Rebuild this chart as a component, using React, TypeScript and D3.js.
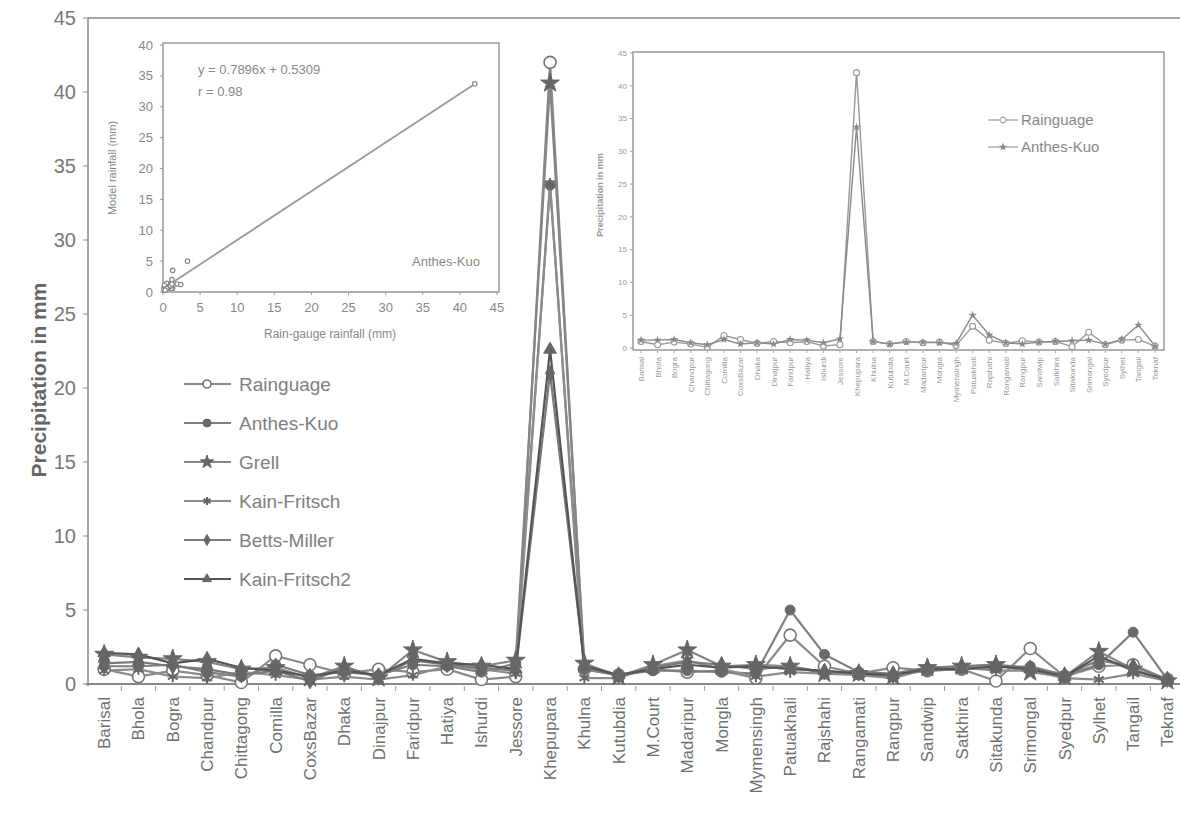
import React from 'react';
import * as d3 from 'd3';

const stations = ['Barisal','Bhola','Bogra','Chandpur','Chittagong','Comilla','CoxsBazar','Dhaka','Dinajpur','Faridpur','Hatiya','Ishurdi','Jessore','Khepupara','Khulna','Kutubdia','M.Court','Madaripur','Mongla','Mymensingh','Patuakhali','Rajshahi','Rangamati','Rangpur','Sandwip','Satkhira','Sitakunda','Srimongal','Syedpur','Sylhet','Tangail','Teknaf'];

const rainguage = [1.0,0.5,0.9,0.6,0.1,1.9,1.3,0.7,1.0,0.8,1.0,0.3,0.5,42.0,1.0,0.6,1.0,0.8,0.9,0.4,3.3,1.2,0.7,1.1,0.9,1.0,0.2,2.4,0.5,1.2,1.3,0.3];
const anthesKuo = [1.2,1.2,1.3,0.8,0.5,1.3,0.6,0.8,0.6,1.3,1.2,0.8,1.4,33.7,1.0,0.6,0.9,0.9,0.8,0.7,5.0,2.0,0.8,0.6,0.9,1.0,1.1,1.2,0.6,1.3,3.5,0.3];
const grell = [2.0,1.8,1.7,1.5,1.0,1.1,0.4,1.2,0.4,2.3,1.5,1.2,1.6,40.6,1.4,0.5,1.3,2.3,1.2,1.3,1.2,0.7,0.7,0.5,1.1,1.2,1.3,0.8,0.5,2.2,1.0,0.2];
const kainFritsch = [0.9,1.0,0.5,0.4,0.8,0.6,0.3,0.5,0.3,0.6,1.2,1.0,0.7,33.8,0.4,0.4,1.2,1.6,1.0,0.5,0.8,0.7,0.6,0.4,1.0,1.1,0.9,0.9,0.4,0.3,0.7,0.2];
const bettsMiller = [1.4,1.5,1.2,1.0,0.6,0.9,0.2,1.1,0.5,1.6,1.3,1.1,0.9,21.0,1.3,0.6,1.1,1.5,1.3,1.0,1.2,0.8,0.8,0.7,1.1,1.2,1.3,1.1,0.6,1.6,1.2,0.3];
const kainFritsch2 = [2.1,2.0,1.4,1.7,1.1,0.9,0.5,0.9,0.6,1.7,1.4,1.3,1.0,22.6,1.2,0.6,1.0,1.3,1.1,1.2,1.0,0.9,0.7,0.6,1.0,1.0,1.2,1.0,0.5,1.9,0.9,0.3];

const seriesNames = ['Rainguage','Anthes-Kuo','Grell',' Kain-Fritsch','Betts-Miller','Kain-Fritsch2'];
const seriesValues = [rainguage, anthesKuo, grell, kainFritsch, bettsMiller, kainFritsch2];

const mainYTicks = [0,5,10,15,20,25,30,35,40,45];
const scatterXTicks = [0,5,10,15,20,25,30,35,40,45];
const scatterYTicks = [0,5,10,15,20,25,30,35,40];
const insetYTicks = [0,5,10,15,20,25,30,35,40,45];
const regSlope = 0.7896;
const regIntercept = 0.5309;
const regressionText = 'y = 0.7896x + 0.5309';
const rText = 'r = 0.98';

const FONT = "'Liberation Sans', Arial, sans-serif";

const styles = [
  { kind: 'circleOpen', line: '#8a8a8a', mark: '#777', size: 6 },
  { kind: 'circle', line: '#7e7e7e', mark: '#6a6a6a', size: 5 },
  { kind: 'star', line: '#858585', mark: '#666', size: 110 },
  { kind: 'asterisk', line: '#8c8c8c', mark: '#666', size: 90 },
  { kind: 'diamond', line: '#7a7a7a', mark: '#666', size: 70 },
  { kind: 'triangle', line: '#555', mark: '#666', size: 70 },
];

function Marker({ kind, cx, cy, color, size }: any) {
  if (kind === 'circleOpen') return <circle cx={cx} cy={cy} r={size} fill="#fff" stroke={color} strokeWidth={1.6} />;
  if (kind === 'circle') return <circle cx={cx} cy={cy} r={size} fill={color} stroke={color} strokeWidth={1} />;
  const t = kind === 'star' ? d3.symbolStar : kind === 'asterisk' ? d3.symbolAsterisk : kind === 'diamond' ? d3.symbolDiamond : d3.symbolTriangle;
  const d = d3.symbol(t, size)() as string;
  if (kind === 'asterisk') return <path d={d} transform={`translate(${cx},${cy})`} fill="none" stroke={color} strokeWidth={2} />;
  return <path d={d} transform={`translate(${cx},${cy})`} fill={color} stroke={color} strokeWidth={1} />;
}

export default function App() {
  const x = d3.scaleBand().domain(stations).range([87, 87 + 32 * 34.3]);
  const cx = (s: string) => (x(s) as number) + x.bandwidth() / 2;
  const y = d3.scaleLinear().domain([0, 45]).range([684, 18]);
  const line = d3.line<number>().x((_, i) => cx(stations[i])).y(v => y(v));

  const sx = d3.scaleLinear().domain([0, 45]).range([163, 497]);
  const sy = d3.scaleLinear().domain([0, 40]).range([292, 45]);
  const gaugeMax = d3.max(rainguage) as number;

  const ix = d3.scalePoint().domain(stations).range([641, 1155]);
  const iy = d3.scaleLinear().domain([0, 45]).range([348, 53]);
  const iline = d3.line<number>().x((_, i) => ix(stations[i]) as number).y(v => iy(v));

  return (
    <div style={{ position: 'absolute', left: 0, top: 0 }}>
      <svg width={1180} height={821} style={{ display: 'block', background: '#fff', fontFamily: FONT }}>
        <line x1={88} x2={1180} y1={18} y2={18} stroke="#888" strokeWidth={1.5} />
        <line x1={88} x2={88} y1={18} y2={686} stroke="#888" strokeWidth={1.5} />
        <line x1={86} x2={1180} y1={684} y2={684} stroke="#888" strokeWidth={2} />
        {mainYTicks.map(t => (
          <g key={t}>
            <line x1={83} x2={88} y1={y(t)} y2={y(t)} stroke="#888" />
            <text x={76} y={y(t)} dy="0.35em" textAnchor="end" fontSize={20} fill="#777">{t}</text>
          </g>
        ))}
        {stations.map((s, i) => (
          <line key={'xt' + i} x1={(x(s) as number) + x.bandwidth()} x2={(x(s) as number) + x.bandwidth()} y1={686} y2={691} stroke="#999" />
        ))}
        {stations.map(s => (
          <text key={s} transform={`translate(${cx(s) + 6},697) rotate(-90)`} textAnchor="end" fontSize={17} fill="#707070">{s}</text>
        ))}
        <text transform="translate(46,380) rotate(-90)" textAnchor="middle" fontSize={21} fontWeight="bold" fill="#666">Precipitation in mm</text>

        {seriesValues.map((vals, k) => (
          <path key={'l' + k} d={line(vals) as string} fill="none" stroke={styles[k].line} strokeWidth={2.2} />
        ))}
        {seriesValues.map((vals, k) => (
          <g key={'m' + k}>
            {vals.map((v, i) => (
              <Marker key={i} kind={styles[k].kind} cx={cx(stations[i])} cy={y(v)} color={styles[k].mark} size={styles[k].size} />
            ))}
          </g>
        ))}

        {seriesNames.map((n, k) => {
          const ly = 384 + k * 39;
          return (
            <g key={n}>
              <line x1={184} x2={231} y1={ly} y2={ly} stroke={styles[k].line} strokeWidth={1.8} />
              <Marker kind={styles[k].kind} cx={207} cy={ly} color={styles[k].mark} size={styles[k].kind.startsWith('circle') ? 4 : styles[k].size * 0.5} />
              <text x={239} y={ly} dy="0.35em" fontSize={19} fill="#808080">{n}</text>
            </g>
          );
        })}

        <rect x={163} y={43} width={336} height={249} fill="#fff" stroke="#999" strokeWidth={1.5} />
        {scatterYTicks.map(t => (
          <g key={'sy' + t}>
            <line x1={160} x2={163} y1={sy(t)} y2={sy(t)} stroke="#999" />
            <text x={153} y={sy(t)} dy="0.35em" textAnchor="end" fontSize={13} fill="#888">{t}</text>
          </g>
        ))}
        {scatterXTicks.map(t => (
          <g key={'sx' + t}>
            <line x1={sx(t)} x2={sx(t)} y1={292} y2={295} stroke="#999" />
            <text x={sx(t)} y={312} textAnchor="middle" fontSize={13} fill="#888">{t}</text>
          </g>
        ))}
        <text x={330} y={338} textAnchor="middle" fontSize={12} fill="#888">Rain-gauge rainfall (mm)</text>
        <text transform="translate(116,168) rotate(-90)" textAnchor="middle" fontSize={11} fill="#888">Model rainfall (mm)</text>
        <line x1={sx(0)} x2={sx(gaugeMax)} y1={sy(regIntercept)} y2={sy(regSlope * gaugeMax + regIntercept)} stroke="#999" strokeWidth={1.8} />
        {rainguage.map((g, i) => (
          <circle key={'sp' + i} cx={sx(g)} cy={sy(anthesKuo[i])} r={2.2} fill="#fff" stroke="#888" strokeWidth={1.2} />
        ))}
        <text x={198} y={74} fontSize={13} fill="#888">{regressionText}</text>
        <text x={198} y={96} fontSize={13} fill="#888">{rText}</text>
        <text x={480} y={266} textAnchor="end" fontSize={13} fill="#888">Anthes-Kuo</text>

        <rect x={633} y={52} width={531} height={298} fill="#fff" stroke="#999" strokeWidth={1.5} />
        {insetYTicks.map(t => (
          <g key={'iy' + t}>
            <line x1={630} x2={633} y1={iy(t)} y2={iy(t)} stroke="#999" />
            <text x={627} y={iy(t)} dy="0.35em" textAnchor="end" fontSize={8} fill="#999">{t}</text>
          </g>
        ))}
        {stations.map(s => (
          <g key={'ix' + s}>
            <line x1={ix(s) as number} x2={ix(s) as number} y1={350} y2={353} stroke="#aaa" />
            <text transform={`translate(${(ix(s) as number) + 3},357) rotate(-90)`} textAnchor="end" fontSize={8} fill="#999">{s}</text>
          </g>
        ))}
        <text transform="translate(603,195) rotate(-90)" textAnchor="middle" fontSize={9} fontWeight="bold" fill="#999">Precipitation in mm</text>
        <path d={iline(rainguage) as string} fill="none" stroke="#999" strokeWidth={1.4} />
        <path d={iline(anthesKuo) as string} fill="none" stroke="#8a8a8a" strokeWidth={1.4} />
        {rainguage.map((v, i) => (
          <circle key={'ir' + i} cx={ix(stations[i]) as number} cy={iy(v)} r={3} fill="#fff" stroke="#999" strokeWidth={1.1} />
        ))}
        {anthesKuo.map((v, i) => (
          <path key={'ia' + i} d={d3.symbol(d3.symbolStar, 22)() as string} transform={`translate(${ix(stations[i])},${iy(v)})`} fill="#888" />
        ))}
        <line x1={988} x2={1018} y1={120} y2={120} stroke="#999" strokeWidth={1.2} />
        <circle cx={1003} cy={120} r={3} fill="#fff" stroke="#999" />
        <text x={1021} y={120} dy="0.35em" fontSize={15} fill="#888">Rainguage</text>
        <line x1={988} x2={1018} y1={147} y2={147} stroke="#999" strokeWidth={1.2} />
        <path d={d3.symbol(d3.symbolStar, 22)() as string} transform="translate(1003,147)" fill="#888" />
        <text x={1021} y={147} dy="0.35em" fontSize={15} fill="#888">Anthes-Kuo</text>
      </svg>
    </div>
  );
}
